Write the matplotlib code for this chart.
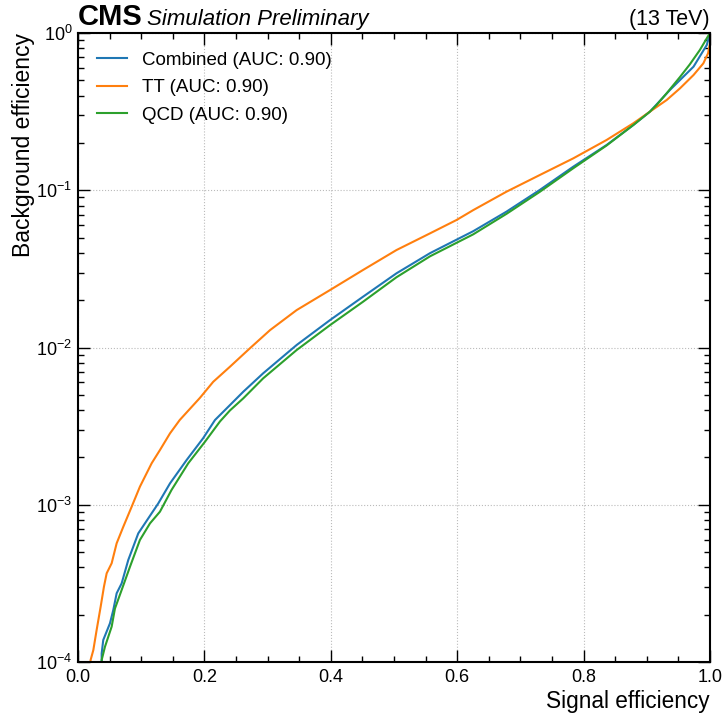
"""ROC curves for the tagger — background vs signal efficiency, CMS style."""
import matplotlib
matplotlib.use("Agg")
import matplotlib.pyplot as plt
import numpy as np

# ── Data (background efficiency kept as log10) ───────────────────────────────
LABELS = ["Combined (AUC: 0.90)", "TT (AUC: 0.90)", "QCD (AUC: 0.90)"]
COLORS = ["#1f77b4", "#ff7f0e", "#2ca02c"]

sig_comb = [0.0375, 0.0375, 0.040, 0.0506, 0.0559, 0.0612, 0.0691, 0.0796, 0.0954,
            0.1113, 0.1271, 0.1456, 0.172, 0.198, 0.2168, 0.2405, 0.2616, 0.293,
            0.346, 0.399, 0.451, 0.504, 0.557, 0.6255, 0.678, 0.7307, 0.7837,
            0.8365, 0.8787, 0.905, 0.9367, 0.974, 0.995, 1.0]
logbkg_comb = [-4.05, -3.945, -3.860, -3.754, -3.669, -3.563, -3.500, -3.351, -3.182,
               -3.086, -2.991, -2.864, -2.715, -2.577, -2.461, -2.366, -2.281, -2.164,
               -1.984, -1.825, -1.677, -1.528, -1.40, -1.26, -1.136, -0.998, -0.850,
               -0.712, -0.585, -0.500, -0.362, -0.214, -0.076, 0.0]

sig_tt = [0.019, 0.020, 0.0243, 0.0295, 0.0359, 0.0411, 0.0454, 0.0533, 0.0612,
          0.0717, 0.085, 0.098, 0.1166, 0.1297, 0.1456, 0.161, 0.193, 0.214, 0.2405,
          0.272, 0.304, 0.346, 0.399, 0.451, 0.504, 0.557, 0.599, 0.6255, 0.678,
          0.7307, 0.7837, 0.8365, 0.8787, 0.905, 0.9315, 0.9525, 0.974, 0.9895,
          0.997, 1.0, 1.0]
logbkg_tt = [-4.05, -3.987, -3.924, -3.797, -3.648, -3.521, -3.436, -3.372, -3.245,
             -3.140, -3.012, -2.885, -2.736, -2.652, -2.546, -2.461, -2.32, -2.218,
             -2.122, -2.005, -1.889, -1.762, -1.634, -1.507, -1.380, -1.274, -1.189,
             -1.126, -1.009, -0.903, -0.797, -0.680, -0.574, -0.500, -0.426, -0.352,
             -0.267, -0.193, -0.129, -0.066, 0.0]

sig_qcd = [0.0375, 0.0375, 0.0427, 0.0533, 0.0585, 0.0691, 0.0823, 0.098, 0.114,
           0.1297, 0.148, 0.1745, 0.201, 0.2247, 0.2405, 0.2616, 0.293, 0.346,
           0.399, 0.451, 0.504, 0.557, 0.6255, 0.678, 0.7307, 0.7837, 0.8365,
           0.8787, 0.905, 0.9155, 0.9315, 0.9525, 0.968, 0.984, 0.997, 1.0]
logbkg_qcd = [-4.05, -3.987, -3.903, -3.775, -3.66, -3.542, -3.394, -3.224, -3.118,
              -3.044, -2.906, -2.736, -2.599, -2.47, -2.40, -2.323, -2.196, -2.016,
              -1.857, -1.709, -1.553, -1.42, -1.28, -1.15, -1.01, -0.86, -0.715,
              -0.585, -0.500, -0.458, -0.383, -0.28, -0.20, -0.108, -0.02, 0.0]

CURVES = [(sig_comb, logbkg_comb), (sig_tt, logbkg_tt), (sig_qcd, logbkg_qcd)]

# ── Style ────────────────────────────────────────────────────────────────────
FONT = "Liberation Sans"
plt.rcParams["font.family"] = [FONT, "DejaVu Sans"]
plt.rcParams["mathtext.fontset"] = "custom"
plt.rcParams["mathtext.rm"] = FONT
plt.rcParams["mathtext.it"] = FONT + ":italic"
plt.rcParams["mathtext.bf"] = FONT + ":bold"

fig = plt.figure(figsize=(7.26, 7.15), dpi=100)
ax = fig.add_axes([0.1074, 0.0741, 0.8705, 0.8797])

for (s, lb), lab, col in zip(CURVES, LABELS, COLORS):
    ax.plot(s, np.power(10.0, lb), color=col, lw=1.5, label=lab)

ax.set_yscale("log")
ax.set_xlim(0, 1)
ax.set_ylim(1e-4, 1)
ax.set_xticks([0.0, 0.2, 0.4, 0.6, 0.8, 1.0])
ax.set_xticklabels(["0.0", "0.2", "0.4", "0.6", "0.8", "1.0"])
ax.xaxis.set_minor_locator(matplotlib.ticker.MultipleLocator(0.05))
ax.yaxis.set_minor_locator(matplotlib.ticker.LogLocator(base=10, subs=np.arange(2, 10)))
ax.yaxis.set_minor_formatter(matplotlib.ticker.NullFormatter())

ax.tick_params(which="both", direction="in", top=True, right=True, labelsize=13)
ax.tick_params(which="major", length=8.5, width=1.0)
ax.tick_params(which="minor", length=4.3, width=1.0)
ax.tick_params(axis="x", which="major", pad=5)
ax.tick_params(axis="y", which="major", pad=4)
for sp in ax.spines.values():
    sp.set_linewidth(1.5)

ax.grid(True, which="major", color="#bbbbbb", linestyle=":", linewidth=0.8)
ax.set_axisbelow(True)

ax.set_xlabel("Signal efficiency", loc="right", fontsize=16.3, labelpad=3)
ax.set_ylabel("Background efficiency", loc="top", fontsize=16.5, labelpad=1)

ax.legend(loc="upper left", frameon=False, fontsize=13.5, handlelength=1.6,
          borderaxespad=0.6, labelspacing=0.55, handletextpad=0.8)

# CMS header
fig.text(78 / 726, 1 - 25 / 715, "CMS", fontsize=21, fontweight="bold", va="baseline")
fig.text(147 / 726, 1 - 25 / 715, "Simulation Preliminary", fontsize=16,
         style="italic", va="baseline")
fig.text(710 / 726, 1 - 25 / 715, "(13 TeV)", fontsize=15.5, ha="right", va="baseline")

fig.savefig("out.png", dpi=100)
